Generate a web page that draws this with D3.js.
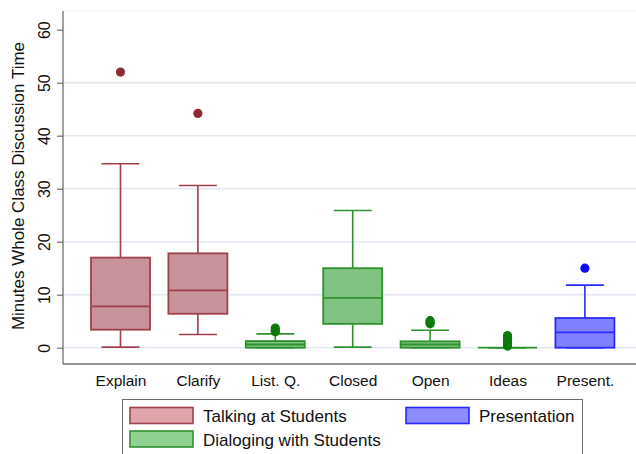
<!DOCTYPE html>
<html>
<head>
<meta charset="utf-8">
<script src="https://cdn.jsdelivr.net/npm/d3@7"></script>
<style>
  html, body { margin: 0; padding: 0; background: #fff; }
  svg { display: block; font-family: "Liberation Sans", Arial, Helvetica, sans-serif; }
</style>
</head>
<body>
<svg id="chart" width="636" height="454"></svg>
<script>
// Box-plot summaries of whole-class discussion minutes per activity
const categories = ["Explain", "Clarify", "List. Q.", "Closed", "Open", "Ideas", "Present."];
const groups     = ["talk", "talk", "dialog", "dialog", "dialog", "dialog", "present"];
const whiskerLo  = [0.1, 2.5, 0, 0.1, 0, 0, 0];
const q1         = [3.4, 6.4, 0, 4.5, 0, 0, 0];
const medians    = [7.8, 10.8, 0.6, 9.4, 0.6, 0, 2.9];
const q3         = [17.0, 17.8, 1.25, 15.0, 1.2, 0, 5.6];
const whiskerHi  = [34.7, 30.6, 2.6, 25.9, 3.3, 0, 11.8];
const outliers   = [[52], [44.2], [3.0, 3.3, 3.7], [], [4.5, 4.8, 5.1], [0.3, 0.8, 1.3, 1.8, 2.3], [15]];
const yTicks     = [0, 10, 20, 30, 40, 50, 60];
const yGrid      = [0, 10, 20, 30, 40, 50];

const legendGroups = ["talk", "present", "dialog"];
const legendLabels = ["Talking at Students", "Presentation", "Dialoging with Students"];

const palette = {
  talk:    { fill: "#c8939a", stroke: "#a0404a", dot: "#8e2a33" },
  dialog:  { fill: "#80c280", stroke: "#2e922e", dot: "#0b7a0b" },
  present: { fill: "#8080ff", stroke: "#2a2aff", dot: "#0c0cf5" }
};
const legendFill = { talk: "#dea6aa", dialog: "#8fd28f", present: "#8c8cff" };

const svg = d3.select("#chart");
const plotLeft = 63, plotRight = 640, plotTop = 11, plotBottom = 364;

const y = d3.scaleLinear().domain([0, 60]).range([347.7, 29.7]);

// box centres on a fixed pitch starting from the first category
const x0 = 120.5, pitch = 77.4;
const cx = d3.scalePoint().domain(categories).range([x0, x0 + pitch * (categories.length - 1)]);
const boxW = 59, capW = 38;

// faint top border of the plot region
svg.append("line").attr("x1", plotLeft).attr("x2", plotRight).attr("y1", plotTop).attr("y2", plotTop)
  .attr("stroke", "#f0f0f3").attr("stroke-width", 1);

// gridlines
svg.append("g").selectAll("line").data(yGrid).join("line")
  .attr("x1", plotLeft).attr("x2", plotRight)
  .attr("y1", d => y(d)).attr("y2", d => y(d))
  .attr("stroke", "#e4e8f2").attr("stroke-width", 1.5);

// y axis
const yAxis = svg.append("g").attr("transform", `translate(${plotLeft},0)`)
  .call(d3.axisLeft(y).tickValues(yTicks).tickSize(6).tickPadding(0).tickFormat(d3.format("d")));
yAxis.select(".domain").attr("d", `M0,${plotTop}V${plotBottom}`).attr("stroke", "#6e6e6e").attr("stroke-width", 1.3);
yAxis.selectAll(".tick line").attr("stroke", "#6e6e6e").attr("stroke-width", 1.2);
yAxis.selectAll(".tick text")
  .attr("x", 0).attr("y", 0).attr("dy", null)
  .attr("transform", "translate(-13,0) rotate(-90)")
  .attr("text-anchor", "middle")
  .attr("dominant-baseline", "auto")
  .attr("font-size", 16).attr("fill", "#111")
  .style("font-family", "'Liberation Sans', Arial, sans-serif");

// x axis
const xAxis = svg.append("g").attr("transform", `translate(0,${plotBottom})`)
  .call(d3.axisBottom(cx).tickSize(0).tickPadding(11));
xAxis.select(".domain").attr("d", `M${plotLeft},0H${plotRight}`).attr("stroke", "#6e6e6e").attr("stroke-width", 1.5);
xAxis.selectAll(".tick text").attr("font-size", 15.5).attr("fill", "#111")
  .style("font-family", "'Liberation Sans', Arial, sans-serif");

// y title
svg.append("text")
  .attr("transform", `translate(24,186) rotate(-90)`)
  .attr("text-anchor", "middle")
  .attr("font-size", 17).attr("fill", "#111")
  .text("Minutes Whole Class Discussion Time");

// boxes
const rows = categories.map((c, i) => ({
  c, g: groups[i], lo: whiskerLo[i], q1: q1[i], med: medians[i], q3: q3[i], hi: whiskerHi[i], out: outliers[i]
}));

const box = svg.append("g").selectAll("g").data(rows).join("g")
  .attr("transform", d => `translate(${cx(d.c)},0)`);

box.append("line").attr("class", "whisker")
  .attr("x1", 0).attr("x2", 0).attr("y1", d => y(d.lo)).attr("y2", d => y(d.hi))
  .attr("stroke", d => palette[d.g].stroke).attr("stroke-width", 1.6);
box.append("line").attr("class", "capLo")
  .attr("x1", -capW / 2).attr("x2", capW / 2).attr("y1", d => y(d.lo)).attr("y2", d => y(d.lo))
  .attr("stroke", d => palette[d.g].stroke).attr("stroke-width", 1.6);
box.append("line").attr("class", "capHi")
  .attr("x1", -capW / 2).attr("x2", capW / 2).attr("y1", d => y(d.hi)).attr("y2", d => y(d.hi))
  .attr("stroke", d => palette[d.g].stroke).attr("stroke-width", 1.6);
box.filter(d => d.q3 > d.q1).append("rect")
  .attr("x", -boxW / 2).attr("width", boxW)
  .attr("y", d => y(d.q3)).attr("height", d => y(d.q1) - y(d.q3))
  .attr("fill", d => palette[d.g].fill)
  .attr("stroke", d => palette[d.g].stroke).attr("stroke-width", 1.8);
box.filter(d => d.q3 > d.q1).append("line").attr("class", "median")
  .attr("x1", -boxW / 2).attr("x2", boxW / 2).attr("y1", d => y(d.med)).attr("y2", d => y(d.med))
  .attr("stroke", d => palette[d.g].stroke).attr("stroke-width", 1.8);
// a box collapsed to zero height shows as a single flat line
box.filter(d => d.q3 === d.q1).append("line").attr("class", "flat")
  .attr("x1", -boxW / 2).attr("x2", boxW / 2).attr("y1", d => y(d.med)).attr("y2", d => y(d.med))
  .attr("stroke", d => palette[d.g].stroke).attr("stroke-width", 1.8);

box.selectAll("circle").data(d => d.out.map(v => ({ v, g: d.g }))).join("circle")
  .attr("cx", 0).attr("cy", d => y(d.v)).attr("r", 4.6)
  .attr("fill", d => palette[d.g].dot);

// legend
const lg = svg.append("g");
lg.append("rect").attr("x", 122.5).attr("y", 399.5).attr("width", 460).attr("height", 60)
  .attr("fill", "#fff").attr("stroke", "#6e6e6e").attr("stroke-width", 1);
const legendPos = [[130, 407.5], [406, 407.5], [130, 431]];
legendGroups.forEach((g, i) => {
  const [lx, ly] = legendPos[i];
  lg.append("rect").attr("x", lx).attr("y", ly).attr("width", 63).attr("height", 16)
    .attr("fill", legendFill[g]).attr("stroke", palette[g].stroke).attr("stroke-width", 1.6);
  lg.append("text").attr("x", lx + 73).attr("y", ly + 14.5)
    .attr("font-size", 17).attr("fill", "#111").text(legendLabels[i]);
});
</script>
</body>
</html>
